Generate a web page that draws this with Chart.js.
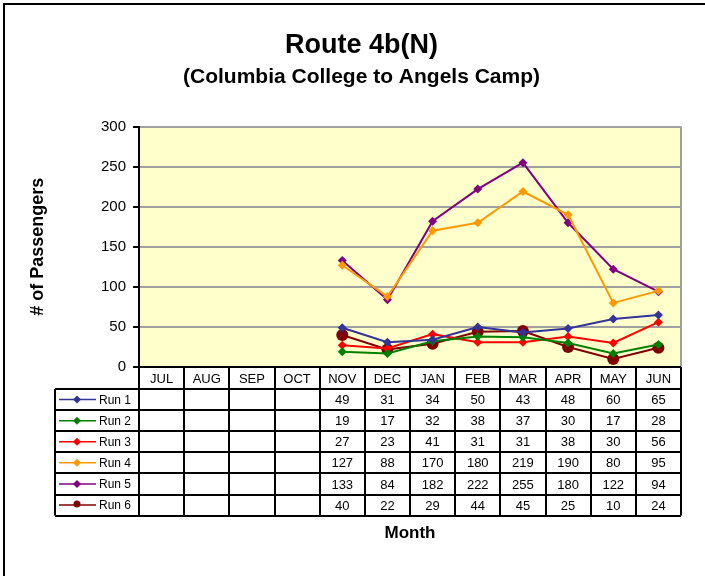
<!DOCTYPE html>
<html>
<head>
<meta charset="utf-8">
<script src="https://cdn.jsdelivr.net/npm/chart.js@4.4.1/dist/chart.umd.min.js"></script>
<style>
  html, body { margin: 0; padding: 0; background: #fff; }
  #wrap { width: 705px; height: 576px; }
</style>
</head>
<body>
<div id="wrap"><canvas id="chart" width="705" height="576"></canvas></div>
<script>
const months = ['JUL', 'AUG', 'SEP', 'OCT', 'NOV', 'DEC', 'JAN', 'FEB', 'MAR', 'APR', 'MAY', 'JUN'];

// no service Jul-Oct, so those are null
const run1 = [null, null, null, null, 49, 31, 34, 50, 43, 48, 60, 65];
const run2 = [null, null, null, null, 19, 17, 32, 38, 37, 30, 17, 28];
const run3 = [null, null, null, null, 27, 23, 41, 31, 31, 38, 30, 56];
const run4 = [null, null, null, null, 127, 88, 170, 180, 219, 190, 80, 95];
const run5 = [null, null, null, null, 133, 84, 182, 222, 255, 180, 122, 94];
const run6 = [null, null, null, null, 40, 22, 29, 44, 45, 25, 10, 24];

const runNames = ['Run 1', 'Run 2', 'Run 3', 'Run 4', 'Run 5', 'Run 6'];
const runData = [run1, run2, run3, run4, run5, run6];
const runColors = ['#333399', '#008000', '#ff0000', '#ff9900', '#800080', '#800000'];
const runMarkers = ['rectRot', 'rectRot', 'rectRot', 'rectRot', 'rectRot', 'circle'];

const FONT = '"Liberation Sans", Arial, sans-serif';

// yellow plot background + the frame edges (top and left only, picture is cropped)
const backdrop = {
  id: 'backdrop',
  beforeDraw(chart) {
    const ctx = chart.ctx;
    const a = chart.chartArea;
    ctx.save();
    ctx.fillStyle = '#fff';
    ctx.fillRect(0, 0, chart.width, chart.height);
    ctx.fillStyle = '#ffffcc';
    ctx.fillRect(a.left, a.top, a.right - a.left, a.bottom - a.top);
    ctx.strokeStyle = '#000';
    ctx.lineWidth = 2;
    ctx.beginPath();
    ctx.moveTo(4, chart.height);
    ctx.lineTo(4, 4);
    ctx.lineTo(chart.width, 4);
    ctx.stroke();
    ctx.restore();
  },
  beforeDatasetsDraw(chart) {
    const ctx = chart.ctx;
    const a = chart.chartArea;
    ctx.save();
    ctx.strokeStyle = '#a0a0a0';
    ctx.lineWidth = 2;
    ctx.beginPath();
    ctx.moveTo(a.right, a.top);
    ctx.lineTo(a.right, a.bottom);
    ctx.stroke();
    ctx.strokeStyle = '#000';
    ctx.beginPath();
    ctx.moveTo(a.left, a.bottom);
    ctx.lineTo(a.right, a.bottom);
    ctx.stroke();
    ctx.restore();
  }
};

// data table under the plot, columns taken from the x scale
const dataTable = {
  id: 'dataTable',
  afterDraw(chart) {
    const ctx = chart.ctx;
    const a = chart.chartArea;
    const x = chart.scales.x;
    const colW = (a.right - a.left) / months.length;
    const headTop = a.bottom;
    const headBottom = a.bottom + 22;
    const rowH = 21.1;
    const tableLeft = 55;
    const tableBottom = headBottom + rowH * runNames.length;

    ctx.save();
    ctx.strokeStyle = '#000';
    ctx.lineWidth = 2;

    // column lines
    for (let i = 0; i <= months.length; i++) {
      const cx = Math.round(a.left + i * colW);
      ctx.beginPath();
      ctx.moveTo(cx, headTop);
      ctx.lineTo(cx, tableBottom);
      ctx.stroke();
    }
    // legend column left edge
    ctx.beginPath();
    ctx.moveTo(tableLeft, headBottom);
    ctx.lineTo(tableLeft, tableBottom);
    ctx.stroke();
    // row lines
    for (let r = 0; r <= runNames.length; r++) {
      const ry = Math.round(headBottom + r * rowH);
      ctx.beginPath();
      ctx.moveTo(tableLeft, ry);
      ctx.lineTo(a.right, ry);
      ctx.stroke();
    }

    ctx.fillStyle = '#000';
    ctx.textAlign = 'center';
    ctx.textBaseline = 'middle';
    ctx.font = '13px ' + FONT;
    months.forEach((m, i) => {
      ctx.fillText(m, x.getPixelForValue(i), (headTop + headBottom) / 2 + 1);
    });

    runData.forEach((series, r) => {
      const cy = headBottom + r * rowH + rowH / 2 + 1;
      ctx.font = '13px ' + FONT;
      series.forEach((v, i) => {
        if (v !== null) ctx.fillText(String(v), x.getPixelForValue(i), cy);
      });
      // legend key
      ctx.strokeStyle = runColors[r];
      ctx.lineWidth = 1.5;
      ctx.beginPath();
      ctx.moveTo(59, cy - 1);
      ctx.lineTo(96, cy - 1);
      ctx.stroke();
      ctx.fillStyle = runColors[r];
      ctx.beginPath();
      if (runMarkers[r] === 'circle') {
        ctx.arc(77, cy - 2, 3.5, 0, Math.PI * 2);
      } else {
        ctx.moveTo(77, cy - 5);
        ctx.lineTo(81, cy - 1);
        ctx.lineTo(77, cy + 3);
        ctx.lineTo(73, cy - 1);
        ctx.closePath();
      }
      ctx.fill();
      ctx.fillStyle = '#000';
      ctx.textAlign = 'left';
      ctx.font = '12px ' + FONT;
      ctx.fillText(runNames[r], 99, cy);
      ctx.textAlign = 'center';
    });

    ctx.font = 'bold 17px ' + FONT;
    ctx.fillText('Month', (a.left + a.right) / 2, 533);
    ctx.restore();
  }
};

new Chart(document.getElementById('chart'), {
  type: 'line',
  data: {
    labels: months,
    datasets: runData.map((d, i) => ({
      label: runNames[i],
      data: d,
      borderColor: runColors[i],
      backgroundColor: runColors[i],
      borderWidth: 2,
      pointStyle: runMarkers[i],
      pointRadius: runMarkers[i] === 'circle' ? 6 : 4.5,
      pointBorderWidth: 0,
      tension: 0,
      spanGaps: false,
    })),
  },
  options: {
    responsive: false,
    animation: false,
    layout: { padding: { left: 42, right: 24, top: 13, bottom: 209 } },
    plugins: {
      legend: { display: false },
      tooltip: { enabled: false },
      title: {
        display: true,
        text: 'Route 4b(N)',
        color: '#000',
        font: { family: FONT, size: 27, weight: 'bold' },
        padding: { top: 16, bottom: 2 },
      },
      subtitle: {
        display: true,
        text: '(Columbia College to Angels Camp)',
        color: '#000',
        font: { family: FONT, size: 21, weight: 'bold' },
        padding: { top: 1, bottom: 37 },
      },
    },
    scales: {
      x: {
        display: false,
        offset: true,
      },
      y: {
        min: 0,
        max: 300,
        afterFit(scale) { scale.width = 97; },
        ticks: {
          stepSize: 50,
          color: '#000',
          padding: 7,
          font: { family: FONT, size: 15 },
        },
        grid: {
          color: '#a0a0a0',
          lineWidth: 2,
          tickLength: 6,
          tickColor: '#000',
        },
        border: { color: '#000', width: 2 },
        title: {
          display: true,
          text: '# of Passengers',
          color: '#000',
          padding: { top: -15, bottom: 4 },
          font: { family: FONT, size: 18, weight: 'bold' },
        },
      },
    },
  },
  plugins: [backdrop, dataTable],
});
</script>
</body>
</html>
